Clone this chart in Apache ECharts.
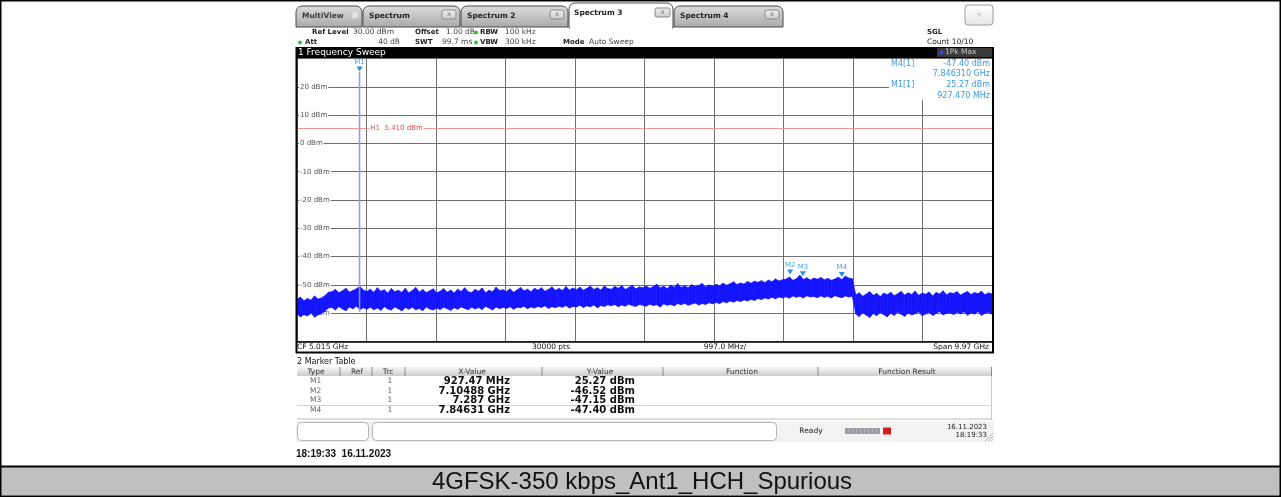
<!DOCTYPE html>
<html>
<head>
<meta charset="utf-8">
<title>4GFSK-350 kbps_Ant1_HCH_Spurious</title>
<script src="https://cdn.jsdelivr.net/npm/echarts@6/dist/echarts.min.js"></script>
<style>
html, body { margin: 0; padding: 0; background: #fff; }
#chart { width: 1281px; height: 497px; }
</style>
</head>
<body>
<div id="chart"></div>
<script>
// sweep: 30 MHz .. 10 GHz, values in GHz / dBm
var F_START = 0.03;
var F_STOP = 10.0;

// noise floor envelope (upper / lower edge), evenly spaced over the span
var traceHi = [
  -55.1,-54.3,-55.6,-54.8,-55.4,-53.9,-55.0,-54.6,-53.8,-52.6,
  -52.4,-51.6,-52.8,-52.1,-51.2,-52.5,-52.0,-51.4,-50.6,-51.8,
  -52.3,-51.5,-52.6,-51.0,-52.2,-51.7,-52.9,-51.3,-52.4,-51.9,
  -52.6,-51.2,-52.8,-52.0,-50.9,-52.5,-51.6,-52.7,-52.1,-51.4,
  -52.8,-52.2,-51.3,-52.6,-51.8,-52.9,-51.5,-52.3,-51.0,-52.4,
  -52.7,-51.6,-52.2,-51.1,-52.8,-51.9,-52.4,-50.8,-52.0,-51.7,
  -52.3,-51.4,-52.6,-51.8,-50.9,-52.1,-51.5,-52.4,-51.2,-51.9,
  -51.0,-52.2,-51.6,-50.7,-51.9,-51.3,-52.0,-50.6,-51.8,-51.1,
  -51.7,-50.8,-51.9,-51.2,-50.5,-51.6,-51.0,-51.8,-50.4,-51.3,
  -51.5,-50.6,-51.2,-50.3,-51.6,-50.9,-50.2,-51.4,-50.7,-51.0,
  -50.4,-51.2,-50.6,-49.8,-51.0,-50.5,-51.3,-50.1,-50.8,-49.6,
  -50.9,-50.3,-51.0,-49.9,-50.6,-50.2,-49.5,-50.7,-50.0,-50.5,
  -49.8,-50.3,-49.4,-50.1,-49.6,-48.9,-49.9,-49.3,-49.7,-48.8,
  -49.4,-48.7,-49.1,-48.5,-49.2,-48.3,-48.9,-47.9,-48.6,-48.2,
  -48.0,-47.2,-48.4,-47.8,-46.6,-48.1,-47.5,-48.3,-47.6,-48.0,
  -47.4,-48.2,-47.7,-48.4,-47.9,-47.3,-48.1,-46.9,-47.6,-47.8,
  -53.6,-52.8,-54.0,-53.2,-52.4,-53.7,-53.0,-54.1,-52.9,-53.5,
  -52.6,-53.8,-53.1,-52.3,-53.6,-52.8,-53.4,-52.2,-53.7,-52.9,
  -53.3,-52.5,-53.9,-52.7,-53.2,-52.1,-53.5,-52.8,-53.0,-52.4,
  -53.6,-52.9,-52.3,-53.4,-52.7,-53.1,-52.2,-53.5,-52.8,-53.2
];
var traceLo = [
  -60.2,-61.3,-60.5,-61.0,-59.8,-61.4,-60.6,-60.1,-59.3,-58.2,
  -58.0,-58.9,-57.6,-58.5,-59.1,-57.8,-58.4,-57.5,-58.7,-58.1,
  -58.6,-57.9,-58.8,-58.2,-59.0,-57.7,-58.5,-58.9,-57.8,-58.4,
  -59.2,-58.0,-58.6,-57.9,-58.8,-58.3,-59.1,-57.8,-58.5,-58.9,
  -58.2,-58.7,-57.9,-58.4,-59.0,-58.1,-58.6,-57.8,-58.3,-58.8,
  -57.9,-58.5,-58.0,-58.7,-57.6,-58.2,-58.9,-57.8,-58.4,-57.9,
  -58.3,-57.7,-58.6,-57.9,-58.1,-57.5,-58.4,-57.8,-58.2,-57.6,
  -58.0,-57.4,-58.3,-57.7,-58.1,-57.5,-57.9,-57.3,-58.2,-57.6,
  -57.8,-57.2,-58.0,-57.4,-57.7,-57.1,-58.1,-57.3,-57.6,-57.0,
  -57.4,-56.9,-57.7,-57.1,-57.5,-56.8,-57.3,-57.6,-56.9,-57.2,
  -57.5,-56.8,-57.3,-57.0,-57.8,-56.7,-57.2,-56.9,-57.4,-56.6,
  -57.0,-56.5,-57.2,-56.8,-56.4,-57.1,-56.6,-56.9,-56.3,-56.7,
  -56.2,-56.6,-55.9,-56.3,-55.7,-56.1,-55.5,-55.9,-55.3,-55.7,
  -55.1,-55.5,-54.8,-55.2,-54.6,-55.0,-54.4,-54.9,-54.3,-54.6,
  -54.2,-54.7,-53.9,-54.4,-54.0,-54.6,-53.8,-54.3,-54.1,-54.5,
  -53.9,-54.4,-54.0,-54.6,-53.8,-54.2,-54.5,-53.9,-54.3,-54.0,
  -60.3,-61.2,-59.8,-60.7,-61.5,-60.1,-60.9,-59.7,-60.5,-61.3,
  -60.0,-60.8,-59.6,-60.4,-61.1,-59.9,-60.6,-60.2,-59.5,-60.9,
  -60.3,-59.7,-60.8,-60.1,-59.4,-60.6,-60.0,-59.8,-60.5,-59.6,
  -60.2,-59.5,-60.7,-59.9,-60.3,-59.4,-60.8,-60.0,-59.7,-60.4
];

// carrier spike at M1 (from floor up to peak)
var m1Spike = [-59.5, 25.27];

var markerNames = ['M1', 'M2', 'M3', 'M4'];
var markerFreq = [0.92747, 7.10488, 7.287, 7.84631];
var markerLevel = [25.27, -46.52, -47.15, -47.40];
var markerXText = ['927.47 MHz', '7.10488 GHz', '7.287 GHz', '7.84631 GHz'];
var markerYText = ['25.27 dBm', '-46.52 dBm', '-47.15 dBm', '-47.40 dBm'];

var h1Level = 5.41;
var yMin = -70, yMax = 30;

var F_STEP = (F_STOP - F_START) / (traceHi.length - 1);

var chart = echarts.init(document.getElementById('chart'));

var UI = '"DejaVu Sans", Verdana, sans-serif';
var g = [];
function T(x, y, s, o) {
  o = o || {};
  g.push({
    type: 'text', x: x, y: y, z: o.z || 20, silent: true,
    style: {
      text: s, fill: o.c || '#222',
      font: (o.b ? 'bold ' : '') + (o.fs || 7.5) + 'px ' + (o.ff || UI),
      align: o.a || 'left', verticalAlign: 'middle'
    }
  });
}
function R(x, y, w, h, o) {
  o = o || {};
  g.push({
    type: 'rect', z: o.z || 10, silent: true,
    shape: { x: x, y: y, width: w, height: h, r: o.r || 0 },
    style: { fill: o.fill || 'none', stroke: o.stroke || null, lineWidth: o.lw || 1 }
  });
}
function L(x1, y1, x2, y2, c, w, z) {
  g.push({
    type: 'line', z: z || 15, silent: true,
    shape: { x1: x1, y1: y1, x2: x2, y2: y2 },
    style: { stroke: c, lineWidth: w || 1 }
  });
}
function grad(a, b) {
  return { type: 'linear', x: 0, y: 0, x2: 0, y2: 1, colorStops: [{ offset: 0, color: a }, { offset: 1, color: b }] };
}

// page frame + caption
R(0.75, 0.75, 1279.5, 495.5, { stroke: '#000', lw: 1.5, z: 30 });
R(1, 467, 1279, 28.5, { fill: '#c0c0c0', z: 5 });
L(0, 466.5, 1281, 466.5, '#000', 2, 30);
T(642, 482, '4GFSK-350 kbps_Ant1_HCH_Spurious', { fs: 24, c: '#111', a: 'center', ff: '"Liberation Sans", Arial, sans-serif' });
T(296, 454, '18:19:33  16.11.2023', { fs: 10, b: true, c: '#111', ff: '"Liberation Sans", Arial, sans-serif' });

// tab bar
var tabs = [
  { x: 296, w: 66, t: 'MultiView' },
  { x: 363, w: 97, t: 'Spectrum' },
  { x: 461, w: 107, t: 'Spectrum 2' },
  { x: 674, w: 109, t: 'Spectrum 4' }
];
tabs.forEach(function (tb, i) {
  R(tb.x, 6, tb.w, 21, { r: [6, 6, 0, 0], fill: grad('#dedede', '#a9a9a9'), stroke: '#4a4a4a', z: 10 });
  T(tb.x + 6, 16, tb.t, { b: true, fs: 7.5, c: i === 0 ? '#3a3a3a' : '#222' });
  if (i > 0) {
    R(tb.x + tb.w - 18, 10, 14, 9, { r: 2, fill: grad('#f4f4f4', '#c8c8c8'), stroke: '#888', z: 11 });
    T(tb.x + tb.w - 11, 14.5, 'x', { fs: 7, c: '#777', a: 'center' });
  }
});
R(352, 12, 6, 6, { fill: '#e4e4e4', stroke: '#cfcfcf', z: 11 });
R(569, 3, 104, 25, { r: [6, 6, 0, 0], fill: '#fff', stroke: '#4a4a4a', z: 12 });
R(570, 26, 102, 3, { fill: '#fff', z: 13 });
T(574, 13.5, 'Spectrum 3', { b: true, fs: 7.5, c: '#222' });
R(655, 8, 15, 9, { r: 2, fill: grad('#f4f4f4', '#c8c8c8'), stroke: '#888', z: 13 });
T(662.5, 12.5, 'x', { fs: 7, c: '#777', a: 'center' });
R(965, 5, 28, 20, { r: 3, fill: grad('#ffffff', '#e6e6e6'), stroke: '#9a9a9a', z: 11 });
T(979, 15, '\u25BF', { fs: 8, c: '#aaa', a: 'center' });

// setting rows
T(312, 32.5, 'Ref Level', { b: true, fs: 7 });
T(353, 32.5, '30.00 dBm', { c: '#444' });
T(415, 32.5, 'Offset', { b: true, fs: 7 });
T(446, 32.5, '1.00 dB', { c: '#444' });
T(305, 42.5, 'Att', { b: true, fs: 7 });
T(400, 42.5, '40 dB', { c: '#444', a: 'right' });
T(415, 42.5, 'SWT', { b: true, fs: 7 });
T(442, 42.5, '99.7 ms', { c: '#444' });
T(480, 32.5, 'RBW', { b: true, fs: 7 });
T(505, 32.5, '100 kHz', { c: '#444' });
T(480, 42.5, 'VBW', { b: true, fs: 7 });
T(505, 42.5, '300 kHz', { c: '#444' });
T(563, 42.5, 'Mode', { b: true, fs: 7 });
T(589, 42.5, 'Auto Sweep', { c: '#444' });
[[300, 42.5], [476, 32.5], [476, 42.5]].forEach(function (p) {
  g.push({ type: 'circle', z: 20, silent: true, shape: { cx: p[0], cy: p[1], r: 2 }, style: { fill: '#2fbf3f' } });
});
T(927, 32.5, 'SGL', { b: true, fs: 7, c: '#222' });
T(927, 42.5, 'Count 10/10', { c: '#222' });

// diagram title bar
R(296, 47, 698, 11, { fill: '#000', z: 10 });
T(298, 52.5, '1 Frequency Sweep', { fs: 9, c: '#fff' });
R(937, 48, 55, 9, { fill: '#3a3a3a', z: 11 });
g.push({ type: 'circle', z: 20, silent: true, shape: { cx: 941.5, cy: 52.5, r: 2 }, style: { fill: '#2a4cff' } });
T(945, 52.5, '1Pk Max', { c: '#c8c8c8' });

// plot frame
L(296.5, 47, 296.5, 353, '#000', 2, 25);
L(993, 47, 993, 353, '#000', 2, 25);
L(296, 342, 994, 342, '#000', 1.5, 25);
L(296, 352.5, 994, 352.5, '#000', 2, 25);
T(297, 347, 'CF 5.015 GHz', { c: '#111' });
T(551, 347, '30000 pts', { c: '#111', a: 'center' });
T(725, 347, '997.0 MHz/', { c: '#111', a: 'center' });
T(989, 347, 'Span 9.97 GHz', { c: '#111', a: 'right' });

// marker readout box (top right, covers grid)
R(889, 59, 103, 41, { fill: '#fff', z: 8 });
var MC = '#3b9be0';
T(891, 64, 'M4[1]', { c: MC, fs: 8 });
T(990, 64, markerYText[3], { c: MC, a: 'right', fs: 8 });
T(990, 74, '7.846310 GHz', { c: MC, a: 'right', fs: 8 });
T(891, 85, 'M1[1]', { c: MC, fs: 8 });
T(990, 85, markerYText[0], { c: MC, a: 'right', fs: 8 });
T(990, 96, '927.470 MHz', { c: MC, a: 'right', fs: 8 });

// marker table
T(297, 362, '2 Marker Table', { c: '#111', fs: 8 });
R(297, 367, 695, 9, { fill: grad('#f6f6f6', '#cdcdcd'), z: 10 });
[340, 372, 405, 542, 663, 818, 991.5].forEach(function (x) { L(x, 367, x, 376, '#8a8a8a', 1); });
L(991.5, 376, 991.5, 419, '#c8c8c8', 1);
L(297, 405.5, 992, 405.5, '#d0d0d0', 1);
L(297, 419, 992, 419, '#bdbdbd', 1);
T(316, 372, 'Type', { c: '#333', a: 'center' });
T(357, 372, 'Ref', { c: '#333', a: 'center' });
T(388, 372, 'Trc', { c: '#333', a: 'center' });
T(472, 372, 'X-Value', { c: '#333', a: 'center' });
T(600, 372, 'Y-Value', { c: '#333', a: 'center' });
T(742, 372, 'Function', { c: '#333', a: 'center' });
T(907, 372, 'Function Result', { c: '#333', a: 'center' });
var rowY = [381.5, 391, 400.5, 410];
markerNames.forEach(function (m, i) {
  T(310, rowY[i], m, { c: '#666' });
  T(390, rowY[i], '1', { c: '#666', a: 'center' });
  T(510, rowY[i], markerXText[i], { b: true, fs: 10, c: '#111', a: 'right' });
  T(635, rowY[i], markerYText[i], { b: true, fs: 10, c: '#111', a: 'right' });
});

// status bar
R(296, 421, 698, 21, { fill: '#f2f2f2', z: 6 });
R(297.5, 422.5, 71, 18, { r: 4, fill: '#fff', stroke: '#b5b5b5', z: 10 });
R(372.5, 422.5, 404, 18, { r: 4, fill: '#fff', stroke: '#b5b5b5', z: 10 });
T(811, 431.5, 'Ready', { c: '#222', fs: 7.5, a: 'center' });
R(845, 428, 35, 6, { fill: '#9a9aa6', z: 10 });
for (var k = 1; k < 9; k++) L(845 + k * 3.9, 428, 845 + k * 3.9, 434, '#c8c8d0', 0.6, 11);
R(883, 427.5, 8, 7, { fill: '#d21f1f', z: 10 });
T(987, 427, '16.11.2023', { fs: 7, c: '#222', a: 'right' });
T(987, 435, '18:19:33', { fs: 7, c: '#222', a: 'right' });
L(985, 441, 993, 433, '#aaa', 0.8);
L(988, 441, 993, 436, '#aaa', 0.8);
L(991, 441, 993, 439, '#aaa', 0.8);

// noise band: one quad per pair of neighbouring envelope samples
var bandRows = traceHi.slice(0, -1).map(function (v, i) {
  return [F_START + i * F_STEP, traceLo[i], v, F_START + (i + 1) * F_STEP, traceLo[i + 1], traceHi[i + 1]];
});

var TRACE = '#1414ff';

chart.setOption({
  animation: false,
  backgroundColor: '#fff',
  graphic: { elements: g },
  grid: { left: 297, top: 58.5, width: 695, height: 283, show: false },
  xAxis: [
    {
      type: 'value', min: F_START, max: F_STOP, show: false
    },
    {
      type: 'value', min: 0, max: 10, interval: 1,
      axisLine: { show: false }, axisTick: { show: false }, axisLabel: { show: false },
      splitLine: { show: true, lineStyle: { color: '#6e6e6e', width: 1 } }
    }
  ],
  yAxis: {
    type: 'value', min: yMin, max: yMax, interval: 10,
    axisLine: { show: false }, axisTick: { show: false },
    splitLine: { show: true, lineStyle: { color: '#6e6e6e', width: 1 } },
    axisLabel: {
      inside: true, margin: 2, fontSize: 7, color: '#555', fontFamily: 'DejaVu Sans',
      backgroundColor: '#fff', padding: [0, 1],
      formatter: function (v) { return (v === yMax || v === yMin) ? '' : v + ' dBm'; }
    }
  },
  series: [
    {
      name: 'noise floor', type: 'custom', xAxisIndex: 0, yAxisIndex: 0, z: 3, silent: true,
      encode: { x: [0, 3], y: [1, 2, 4, 5] },
      data: bandRows,
      renderItem: function (params, api) {
        var a = api.coord([api.value(0), api.value(2)]);
        var b = api.coord([api.value(3), api.value(5)]);
        var c = api.coord([api.value(3), api.value(4)]);
        var d = api.coord([api.value(0), api.value(1)]);
        return {
          type: 'polygon',
          shape: { points: [a, b, c, d] },
          style: { fill: TRACE, stroke: TRACE, lineWidth: 0.7 }
        };
      }
    },
    {
      name: 'M1 spike', type: 'line', xAxisIndex: 0, symbol: 'none', z: 4,
      data: m1Spike.map(function (v) { return [markerFreq[0], v]; }),
      lineStyle: { color: '#8594ff', width: 1.5 },
      markLine: {
        silent: true, symbol: 'none', animation: false,
        lineStyle: { color: '#f29595', width: 1, type: 'solid' },
        label: { show: false },
        data: [{ yAxis: h1Level }]
      },
      markPoint: {
        silent: true, animation: false,
        data: markerNames.map(function (m, i) {
          return {
            name: m, coord: [markerFreq[i], markerLevel[i]],
            symbol: 'triangle', symbolRotate: 180, symbolSize: [6, 5], symbolOffset: [0, -3],
            itemStyle: { color: '#2a8fe0' },
            label: { show: true, position: 'top', distance: 1, formatter: m, color: '#4aa6e8', fontSize: 7, fontFamily: 'DejaVu Sans' }
          };
        }).concat([{
          name: 'H1', coord: [1.06, h1Level], symbol: 'rect', symbolSize: 1,
          itemStyle: { color: 'rgba(0,0,0,0)' },
          label: {
            show: true, position: 'right', distance: 0, formatter: 'H1  5.410 dBm',
            color: '#e84a4a', fontSize: 7, fontFamily: 'DejaVu Sans',
            backgroundColor: '#fff', padding: [0, 1]
          }
        }])
      }
    }
  ]
});
</script>
</body>
</html>
